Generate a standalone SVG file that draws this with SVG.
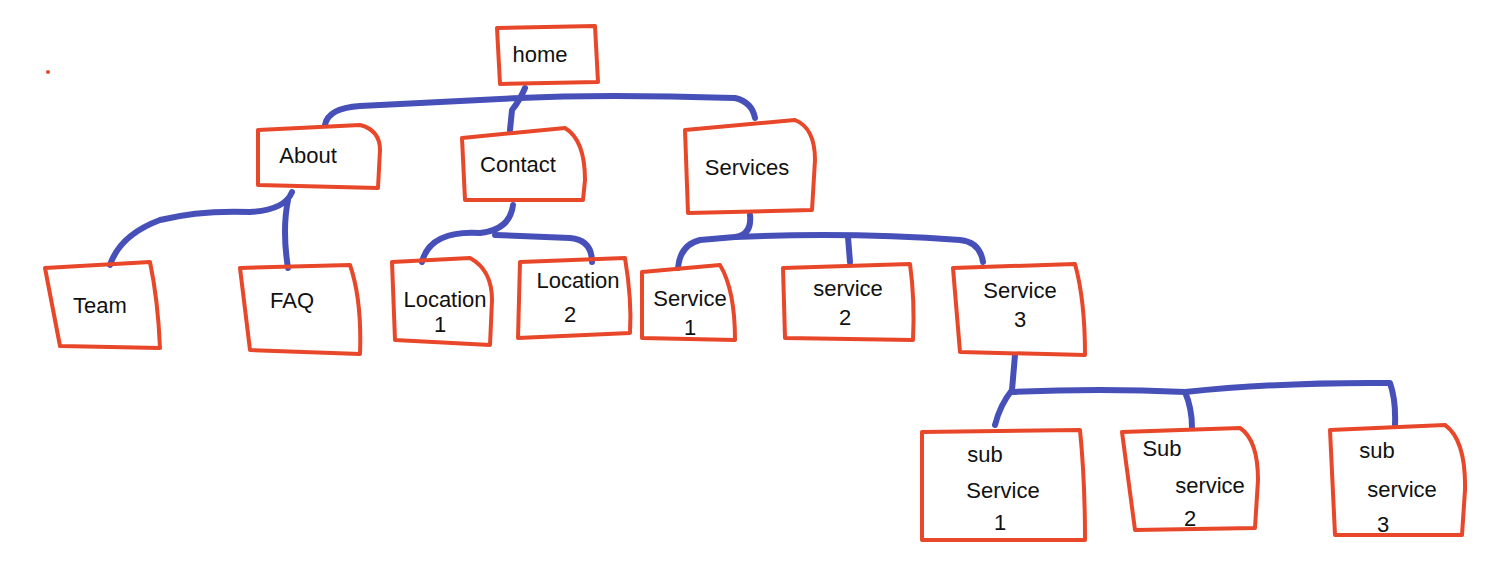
<svg xmlns="http://www.w3.org/2000/svg" width="1500" height="577" viewBox="0 0 1500 577">
<style>
.b{fill:none;stroke:#e8472a;stroke-width:4;stroke-linejoin:round}
.c{fill:none;stroke:#4750b8;stroke-width:6;stroke-linecap:round;stroke-linejoin:round}
text{font-family:"Liberation Sans",sans-serif;font-size:22px;fill:#111;text-anchor:middle}
</style>
<rect width="1500" height="577" fill="#fff"/>
<circle cx="48" cy="72" r="2" fill="#e8472a"/>
<g id="connectors">
<path class="c" d="M325 125 Q328 108 360 106 L520 98 Q600 94 735 98 Q752 102 755 118"/>
<path class="c" d="M525 88 Q520 100 512 110 L510 130"/>
<path class="c" d="M292 192 Q285 210 250 212 Q200 210 160 220 Q120 235 110 265"/>
<path class="c" d="M288 200 Q282 230 288 268"/>
<path class="c" d="M513 205 Q510 230 480 233 Q430 230 422 262"/>
<path class="c" d="M495 235 L570 238 Q592 240 592 262"/>
<path class="c" d="M750 215 Q752 235 735 237 L700 240 Q680 245 678 268"/>
<path class="c" d="M735 237 Q850 232 960 240 Q980 242 983 262"/>
<path class="c" d="M848 237 L850 262"/>
<path class="c" d="M1015 355 L1012 390 Q1000 405 995 425"/>
<path class="c" d="M1012 392 Q1100 388 1185 392 Q1280 382 1390 383 Q1396 400 1395 425"/>
<path class="c" d="M1185 392 Q1192 408 1192 428"/>
</g>
<g id="home"><path class="b" d="M497 28 L595 26 L598 82 L500 84 Z"/><text x="540" y="62">home</text></g>
<g id="about"><path class="b" d="M258 130 L360 125 Q380 130 380 150 L378 188 L258 185 Z"/><text x="308" y="163" font-size="20">About</text></g>
<g id="contact"><path class="b" d="M462 138 L565 128 Q585 140 585 180 L583 200 L465 200 Z"/><text x="518" y="172" font-size="20">Contact</text></g>
<g id="services"><path class="b" d="M685 130 L795 120 Q815 128 815 160 L812 210 L688 213 Z"/><text x="747" y="175">Services</text></g>
<g id="team"><path class="b" d="M45 268 L150 262 Q158 300 160 348 L60 346 Z"/><text x="100" y="313">Team</text></g>
<g id="faq"><path class="b" d="M240 268 L350 265 Q362 300 360 354 L250 350 Z"/><text x="292" y="308">FAQ</text></g>
<g id="location1"><path class="b" d="M392 262 L470 258 Q492 270 492 300 L490 345 L395 340 Z"/><text x="445" y="307" font-size="20">Location</text><text x="440" y="332">1</text></g>
<g id="location2"><path class="b" d="M520 262 L625 258 Q632 300 630 333 L518 338 Z"/><text x="578" y="288" font-size="19">Location</text><text x="570" y="322">2</text></g>
<g id="service1"><path class="b" d="M642 272 L720 265 Q735 290 735 340 L642 338 Z"/><text x="690" y="306" font-size="20">Service</text><text x="690" y="335">1</text></g>
<g id="service2"><path class="b" d="M783 268 L910 264 Q915 300 913 340 L785 338 Z"/><text x="848" y="296">service</text><text x="845" y="325">2</text></g>
<g id="service3"><path class="b" d="M953 268 L1075 264 Q1085 300 1085 355 L960 352 Z"/><text x="1020" y="298">Service</text><text x="1020" y="327">3</text></g>
<g id="sub1"><path class="b" d="M922 432 L1080 430 Q1085 480 1085 540 L922 540 Z"/><text x="985" y="462">sub</text><text x="1003" y="498">Service</text><text x="1000" y="530">1</text></g>
<g id="sub2"><path class="b" d="M1122 432 L1240 428 Q1258 440 1258 480 L1255 528 L1135 530 Z"/><text x="1162" y="456">Sub</text><text x="1210" y="493">service</text><text x="1190" y="526">2</text></g>
<g id="sub3"><path class="b" d="M1330 430 L1445 425 Q1466 440 1465 490 L1462 535 L1335 535 Z"/><text x="1377" y="458">sub</text><text x="1402" y="497">service</text><text x="1383" y="532">3</text></g>
</svg>
